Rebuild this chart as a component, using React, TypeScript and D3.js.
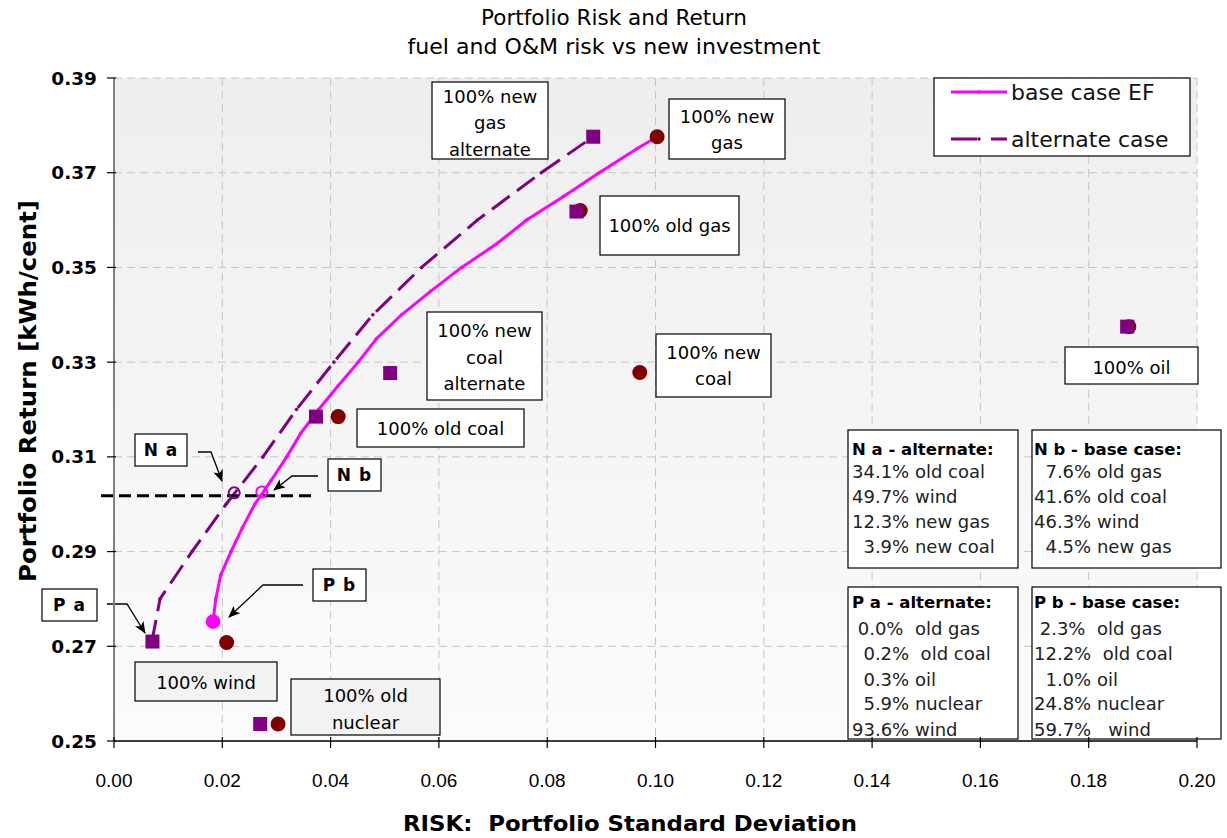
import React from "react";
import * as d3 from "d3";

// ---- Data ----
const categories = ["100% new gas", "100% old gas", "100% new coal", "100% old coal", "100% oil", "100% wind", "100% old nuclear"];
const baseRisk = [0.1003, 0.0861, 0.0971, 0.0414, 0.1874, 0.0208, 0.0303];
const baseReturn = [0.3776, 0.362, 0.3278, 0.3185, 0.3375, 0.2708, 0.2536];
const altRisk = [0.0885, 0.0854, 0.051, 0.0373, 0.1871, 0.0071, 0.027];
const altReturn = [0.3776, 0.3618, 0.3277, 0.3185, 0.3375, 0.271, 0.2536];

const efBaseRisk = [0.0183, 0.0188, 0.0197, 0.0216, 0.0237, 0.026, 0.029, 0.0319, 0.0345, 0.0378, 0.0414, 0.0451, 0.0485, 0.0531, 0.0585, 0.0642, 0.0707, 0.0762, 0.083, 0.0896, 0.0965, 0.1003];
const efBaseReturn = [0.2752, 0.28, 0.285, 0.29, 0.295, 0.3, 0.305, 0.31, 0.315, 0.32, 0.325, 0.33, 0.335, 0.34, 0.345, 0.35, 0.355, 0.36, 0.365, 0.37, 0.375, 0.3776];
const efAltRisk = [0.007, 0.0085, 0.0144, 0.0207, 0.0275, 0.0337, 0.0406, 0.0478, 0.0568, 0.0671, 0.0789, 0.0885];
const efAltReturn = [0.271, 0.28, 0.29, 0.3, 0.31, 0.32, 0.33, 0.34, 0.35, 0.36, 0.37, 0.3776];

const pointNa = [0.0222, 0.3024];
const pointNb = [0.0273, 0.3026];
const pointPb = [0.0183, 0.2752];
const targetReturn = 0.3018;
const targetRange = [-0.0024, 0.0371];

const xTicks = [0, 0.02, 0.04, 0.06, 0.08, 0.1, 0.12, 0.14, 0.16, 0.18, 0.2];
const yTicks = [0.25, 0.27, 0.29, 0.31, 0.33, 0.35, 0.37, 0.39];

const titleLines = ["Portfolio Risk and Return", "fuel and O&M risk vs new investment"];
const xTitle = "RISK:  Portfolio Standard Deviation";
const yTitle = "Portfolio Return [kWh/cent]";
const legendLabels = ["base case EF", "alternate case"];

const mixNa = ["34.1% old coal", "49.7% wind", "12.3% new gas", "  3.9% new coal"];
const mixNb = ["  7.6% old gas", "41.6% old coal", "46.3% wind", "  4.5% new gas"];
const mixPa = [" 0.0%  old gas", "  0.2%  old coal", "  0.3% oil", "  5.9% nuclear", "93.6% wind"];
const mixPb = [" 2.3%  old gas", "12.2%  old coal", "  1.0% oil", "24.8% nuclear", "59.7%   wind"];

// ---- Layout (annotation boxes, pixels) ----
const labelBoxes = [
  { x: 432, y: 82, w: 116, h: 77, lines: ["100% new", "gas", "alternate"], base: [102.5, 129, 155.5], fill: "#ffffff" },
  { x: 669, y: 99, w: 116, h: 60, lines: ["100% new", "gas"], base: [122.5, 149], fill: "#ffffff" },
  { x: 600, y: 196, w: 139, h: 59, lines: ["100% old gas"], base: [232], fill: "#ffffff" },
  { x: 427, y: 312, w: 115, h: 88, lines: ["100% new", "coal", "alternate"], base: [337, 363.5, 390], fill: "#ffffff" },
  { x: 656, y: 334, w: 115, h: 63, lines: ["100% new", "coal"], base: [358.5, 385], fill: "#ffffff" },
  { x: 357, y: 409, w: 167, h: 38, lines: ["100% old coal"], base: [435], fill: "#ffffff" },
  { x: 1065, y: 347, w: 133, h: 37, lines: ["100% oil"], base: [373.5], fill: "#ffffff" },
  { x: 135, y: 662, w: 142, h: 39, lines: ["100% wind"], base: [688.5], fill: "#f3f3f3" },
  { x: 291, y: 679, w: 149, h: 56, lines: ["100% old", "nuclear"], base: [701.5, 728.5], fill: "#f3f3f3" },
];

const tagBoxes = [
  { x: 135, y: 434, w: 52, h: 32, text: "N a", arrow: [[198, 452], [211, 452], [222, 481]] },
  { x: 328, y: 459, w: 53, h: 32, text: "N b", arrow: [[318, 476], [292, 476], [274, 490]] },
  { x: 313, y: 569, w: 53, h: 32, text: "P b", arrow: [[303, 585], [263, 585], [229, 617]] },
  { x: 42, y: 589, w: 55, h: 32, text: "P a", arrow: [[107, 604], [127, 604], [145, 633]] },
];

const mixBoxes = [
  { x: 848, y: 430, w: 170, h: 138, title: "N a - alternate:", lines: mixNa, tx: 852, ty: [449, 471.5, 496.5, 521.5, 546.5] },
  { x: 1032, y: 430, w: 189, h: 138, title: "N b - base case:", lines: mixNb, tx: 1034, ty: [449, 471.5, 496.5, 521.5, 546.5] },
  { x: 848, y: 587, w: 170, h: 152, title: "P a - alternate:", lines: mixPa, tx: 852, ty: [602, 628.5, 653.5, 679, 703.5, 729.5] },
  { x: 1032, y: 587, w: 189, h: 152, title: "P b - base case:", lines: mixPb, tx: 1034, ty: [602, 628.5, 653.5, 679, 703.5, 729.5] },
];

const MAGENTA = "#ff00ff";
const PURPLE = "#800080";
const DARKRED = "#800000";
const SANS = "'DejaVu Sans', Verdana, sans-serif";
const ARIAL = "'Liberation Sans', Arial, sans-serif";

export default function App() {
  const W = 1227, H = 838;
  const x = d3.scaleLinear().domain([0, 0.2]).range([114, 1197]);
  const y = d3.scaleLinear().domain([0.25, 0.39]).range([741, 78]);
  const [x0, x1] = x.range();
  const [yb, yt] = y.range();

  const line = d3.line<[number, number]>().x((d) => x(d[0])).y((d) => y(d[1]));
  const basePts: [number, number][] = efBaseRisk.map((r, i) => [r, efBaseReturn[i]]);
  const altPts: [number, number][] = efAltRisk.map((r, i) => [r, efAltReturn[i]]);
  const arrowLine = d3.line<number[]>().x((d) => d[0]).y((d) => d[1]);

  const sq = 14;

  return (
    <svg width={W} height={H} style={{ position: "absolute", left: 0, top: 0, background: "#fff" }}>
      <defs>
        <linearGradient id="bg" x1="0" y1="0" x2="0" y2="1">
          <stop offset="0" stopColor="#eeeeee" />
          <stop offset="1" stopColor="#fbfbfb" />
        </linearGradient>
        <marker id="arr" viewBox="0 0 12 10" refX="11" refY="5" markerWidth="12" markerHeight="10" markerUnits="userSpaceOnUse" orient="auto">
          <path d="M0,0 L12,5 L0,10 L3,5 z" fill="#000" />
        </marker>
      </defs>

      {/* title */}
      {titleLines.map((t, i) => (
        <text key={t} x={614} y={25 + i * 29} textAnchor="middle" fontFamily={SANS} fontSize={20.5}
          textLength={i === 0 ? 266 : 413} lengthAdjust="spacingAndGlyphs" fill="#000">{t}</text>
      ))}

      {/* plot background */}
      <rect x={x0} y={yt} width={x1 - x0} height={yb - yt} fill="url(#bg)" />

      {/* grid */}
      {xTicks.slice(1).map((t) => (
        <line key={"gx" + t} x1={x(t)} x2={x(t)} y1={yt} y2={yb} stroke="#c4c4c4" strokeWidth={1} strokeDasharray="8,5" />
      ))}
      {yTicks.slice(1).map((t) => (
        <line key={"gy" + t} x1={x0} x2={x1} y1={y(t)} y2={y(t)} stroke="#c4c4c4" strokeWidth={1} strokeDasharray="8,5" />
      ))}

      {/* frontier lines */}
      <path d={line(altPts) || ""} fill="none" stroke={PURPLE} strokeWidth={3} strokeDasharray="22,9" />
      {altPts.map((p, i) => (
        <circle key={"am" + i} cx={x(p[0])} cy={y(p[1])} r={1.8} fill={PURPLE} />
      ))}
      <path d={line(basePts) || ""} fill="none" stroke={MAGENTA} strokeWidth={3} />
      {basePts.map((p, i) => (
        <circle key={"bm" + i} cx={x(p[0])} cy={y(p[1])} r={1.8} fill={MAGENTA} />
      ))}

      {/* target return dashed line */}
      <line x1={x(targetRange[0])} x2={x(targetRange[1])} y1={y(targetReturn)} y2={y(targetReturn)} stroke="#000" strokeWidth={3} strokeDasharray="12,6" />

      {/* N a / N b hollow circles, P b dot */}
      <circle cx={x(pointNa[0])} cy={y(pointNa[1])} r={5.5} fill="none" stroke={PURPLE} strokeWidth={2} />
      <circle cx={x(pointNb[0])} cy={y(pointNb[1])} r={5.5} fill="none" stroke={MAGENTA} strokeWidth={2} />
      <circle cx={x(pointPb[0])} cy={y(pointPb[1])} r={7.3} fill={MAGENTA} />

      {/* single-technology points */}
      {categories.map((c, i) => (
        <circle key={"bc" + c} cx={x(baseRisk[i])} cy={y(baseReturn[i])} r={7.5} fill={DARKRED} />
      ))}
      {categories.map((c, i) => (
        <rect key={"as" + c} x={x(altRisk[i]) - sq / 2} y={y(altReturn[i]) - sq / 2} width={sq} height={sq} fill={PURPLE} />
      ))}

      {/* label boxes */}
      {labelBoxes.map((b, i) => (
        <g key={"lb" + i}>
          <rect x={b.x} y={b.y} width={b.w} height={b.h} fill={b.fill} stroke="#000" strokeWidth={1.2} />
          {b.lines.map((t, j) => (
            <text key={j} x={b.x + b.w / 2} y={b.base[j]} textAnchor="middle" fontFamily={SANS} fontSize={18} fill="#000">{t}</text>
          ))}
        </g>
      ))}

      {/* tag boxes with arrows */}
      {tagBoxes.map((b) => (
        <g key={b.text}>
          <rect x={b.x} y={b.y} width={b.w} height={b.h} fill="#ffffff" stroke="#000" strokeWidth={1.2} />
          <text x={b.x + b.w / 2} y={b.y + b.h / 2 + 6} textAnchor="middle" fontFamily={SANS} fontWeight="bold" fontSize={17} fill="#000" letterSpacing={1}>{b.text}</text>
          <path d={arrowLine(b.arrow) || ""} fill="none" stroke="#000" strokeWidth={1.3} markerEnd="url(#arr)" />
        </g>
      ))}

      {/* mix boxes */}
      {mixBoxes.map((b) => (
        <g key={b.title}>
          <rect x={b.x} y={b.y} width={b.w} height={b.h} fill="#ffffff" stroke="#000" strokeWidth={1.2} />
          <text x={b.tx} y={b.ty[0]} dominantBaseline="central" fontFamily={SANS} fontWeight="bold" fontSize={16.5} fill="#000">{b.title}</text>
          {b.lines.map((t, j) => (
            <text key={j} x={b.tx} y={b.ty[j + 1]} dominantBaseline="central" fontFamily={SANS} fontSize={18} fill="#222" style={{ whiteSpace: "pre" }}>{t}</text>
          ))}
        </g>
      ))}

      {/* legend */}
      <g>
        <rect x={934} y={78} width={256} height={78} fill="#ffffff" stroke="#000" strokeWidth={1.2} />
        <line x1={951} x2={1007} y1={92} y2={92} stroke={MAGENTA} strokeWidth={3} />
        <circle cx={979} cy={92} r={1.8} fill={MAGENTA} />
        <text x={1011} y={92} dominantBaseline="central" fontFamily={SANS} fontSize={22} fill="#111">{legendLabels[0]}</text>
        <line x1={951} x2={1007} y1={139} y2={139} stroke={PURPLE} strokeWidth={3} strokeDasharray="26,14" />
        <circle cx={979} cy={139} r={1.8} fill={PURPLE} />
        <text x={1011} y={139} dominantBaseline="central" fontFamily={SANS} fontSize={22} fill="#111">{legendLabels[1]}</text>
      </g>

      {/* axes */}
      <line x1={x0} x2={x0} y1={yt} y2={yb} stroke="#808080" strokeWidth={2} />
      <line x1={x0} x2={x1} y1={yb} y2={yb} stroke="#000" strokeWidth={1.5} />
      {xTicks.map((t) => (
        <g key={"xt" + t}>
          <line x1={x(t)} x2={x(t)} y1={yb - 4} y2={yb + 7} stroke="#000" strokeWidth={1.2} />
          <text x={x(t)} y={787} textAnchor="middle" fontFamily={ARIAL} fontSize={19} fill="#000">{d3.format(".2f")(t)}</text>
        </g>
      ))}
      {yTicks.map((t) => (
        <g key={"yt" + t}>
          <line x1={x0 - 7} x2={x0 + 2} y1={y(t)} y2={y(t)} stroke="#000" strokeWidth={1.2} />
          <text x={97} y={y(t)} dominantBaseline="central" textAnchor="end" fontFamily={SANS} fontWeight="bold" fontSize={18.5} fill="#000">{d3.format(".2f")(t)}</text>
        </g>
      ))}

      {/* axis titles */}
      <text x={630} y={831} textAnchor="middle" fontFamily={SANS} fontWeight="bold" fontSize={22} textLength={454} lengthAdjust="spacingAndGlyphs" fill="#000" style={{ whiteSpace: "pre" }}>{xTitle}</text>
      <text transform="translate(36,391) rotate(-90)" textAnchor="middle" fontFamily={SANS} fontWeight="bold" fontSize={23.5} textLength={382} lengthAdjust="spacingAndGlyphs" fill="#000">{yTitle}</text>
    </svg>
  );
}
